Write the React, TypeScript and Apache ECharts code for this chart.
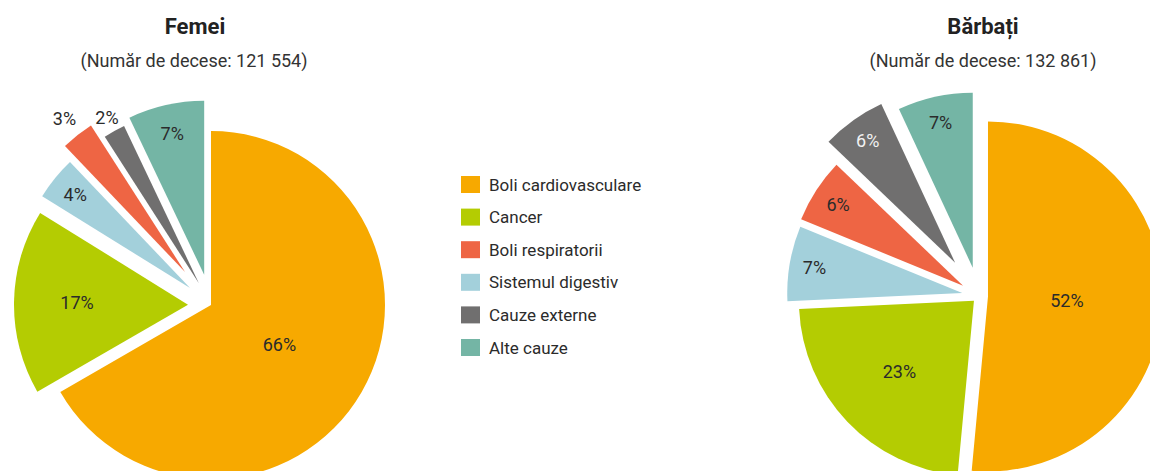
import React, { useEffect, useRef } from "react";
import * as echarts from "echarts";

// ---- data ----
const legendOrder = [
  "Boli cardiovasculare",
  "Cancer",
  "Boli respiratorii",
  "Sistemul digestiv",
  "Cauze externe",
  "Alte cauze",
];
// clockwise order of the slices from 12 o'clock
const sliceOrder = [
  "Boli cardiovasculare",
  "Cancer",
  "Sistemul digestiv",
  "Boli respiratorii",
  "Cauze externe",
  "Alte cauze",
];
const femeiValues = [66, 17, 4, 3, 2, 7];
const barbatiValues = [52, 23, 7, 6, 6, 7];
const femeiTitle = "Femei";
const femeiSub = "(Număr de decese: 121 554)";
const barbatiTitle = "Bărbați";
const barbatiSub = "(Număr de decese: 132 861)";

// ---- styles ----
const colors: Record<string, string> = {
  "Boli cardiovasculare": "#F7A900",
  Cancer: "#B4CC02",
  "Boli respiratorii": "#EE6544",
  "Sistemul digestiv": "#A3D0DB",
  "Cauze externe": "#706F6F",
  "Alte cauze": "#74B5A5",
};
const femeiExplode = [0, 23, 27, 42, 25, 31];
const barbatiExplode = [9, 7, 17, 19, 41, 29];
const femeiLabelDist = [76, 108, 145, 192, 186, 142];
const barbatiLabelDist = [76, 100, 147, 146, 147, 146];
const femeiLabelColors = ["#2b2b2b", "#2b2b2b", "#2b2b2b", "#2b2b2b", "#2b2b2b", "#2b2b2b"];
const barbatiLabelColors = ["#2b2b2b", "#2b2b2b", "#2b2b2b", "#2b2b2b", "#f2f2f2", "#2b2b2b"];
const FONT = "Roboto, 'Noto Sans', sans-serif";

function buildPie(
  values: number[],
  cx: number,
  cy: number,
  r: number,
  explode: number[],
  labelDist: number[],
  labelColors: string[]
) {
  const total = values.reduce((a, b) => a + b, 0);
  let acc = 0;
  return values.map((v, i) => {
    const start = (acc / total) * Math.PI * 2;
    acc += v;
    const end = (acc / total) * Math.PI * 2;
    const mid = (start + end) / 2;
    const sx = Math.sin(mid);
    const sy = -Math.cos(mid);
    const shift = labelDist[i] - r / 2;
    return {
      type: "pie",
      center: [cx + explode[i] * sx, cy + explode[i] * sy],
      radius: r,
      startAngle: 90,
      clockwise: true,
      silent: true,
      avoidLabelOverlap: false,
      animation: false,
      labelLine: { show: false },
      labelLayout: { dx: shift * sx, dy: shift * sy },
      emphasis: { disabled: true },
      data: values.map((w, j) => ({
        name: sliceOrder[j],
        value: w,
        itemStyle: {
          color: j === i ? colors[sliceOrder[j]] : "rgba(0,0,0,0)",
          borderWidth: 0,
        },
        label:
          j === i
            ? {
                show: true,
                position: "inside",
                formatter: `${w}%`,
                color: labelColors[j],
                fontSize: 18,
                fontFamily: FONT,
              }
            : { show: false },
      })),
    };
  });
}

export default function App() {
  const ref = useRef<HTMLDivElement>(null);
  useEffect(() => {
    if (!ref.current) return;
    const chart = echarts.init(ref.current, null, { renderer: "svg" });
    const series = [
      ...buildPie(femeiValues, 211, 305, 174, femeiExplode, femeiLabelDist, femeiLabelColors),
      ...buildPie(barbatiValues, 979, 296, 175, barbatiExplode, barbatiLabelDist, barbatiLabelColors),
    ];
    chart.setOption({
      animation: false,
      backgroundColor: "#ffffff",
      legend: {
        orient: "vertical",
        left: 456,
        top: 171,
        itemWidth: 19,
        itemHeight: 17,
        itemGap: 15.6,
        icon: "rect",
        selectedMode: false,
        textStyle: { fontSize: 17, color: "#2b2b2b", fontFamily: FONT, padding: [0, 0, 0, 4] },
        data: legendOrder.map((n) => ({ name: n, itemStyle: { color: colors[n], borderWidth: 0 } })),
      },
      graphic: [
        {
          type: "text",
          x: 195,
          y: 26,
          style: {
            text: femeiTitle,
            fill: "#222",
            font: `bold 22px ${FONT}`,
            textAlign: "center",
            textVerticalAlign: "middle",
          },
        },
        {
          type: "text",
          x: 194,
          y: 60,
          style: {
            text: femeiSub,
            fill: "#333",
            font: `18px ${FONT}`,
            textAlign: "center",
            textVerticalAlign: "middle",
          },
        },
        {
          type: "text",
          x: 983,
          y: 26,
          style: {
            text: barbatiTitle,
            fill: "#222",
            font: `bold 22px ${FONT}`,
            textAlign: "center",
            textVerticalAlign: "middle",
          },
        },
        {
          type: "text",
          x: 983,
          y: 60,
          style: {
            text: barbatiSub,
            fill: "#333",
            font: `18px ${FONT}`,
            textAlign: "center",
            textVerticalAlign: "middle",
          },
        },
      ],
      series,
    });
    return () => chart.dispose();
  }, []);
  return (
    <div
      ref={ref}
      style={{ position: "fixed", left: 0, top: 0, width: 1150, height: 471 }}
    />
  );
}
